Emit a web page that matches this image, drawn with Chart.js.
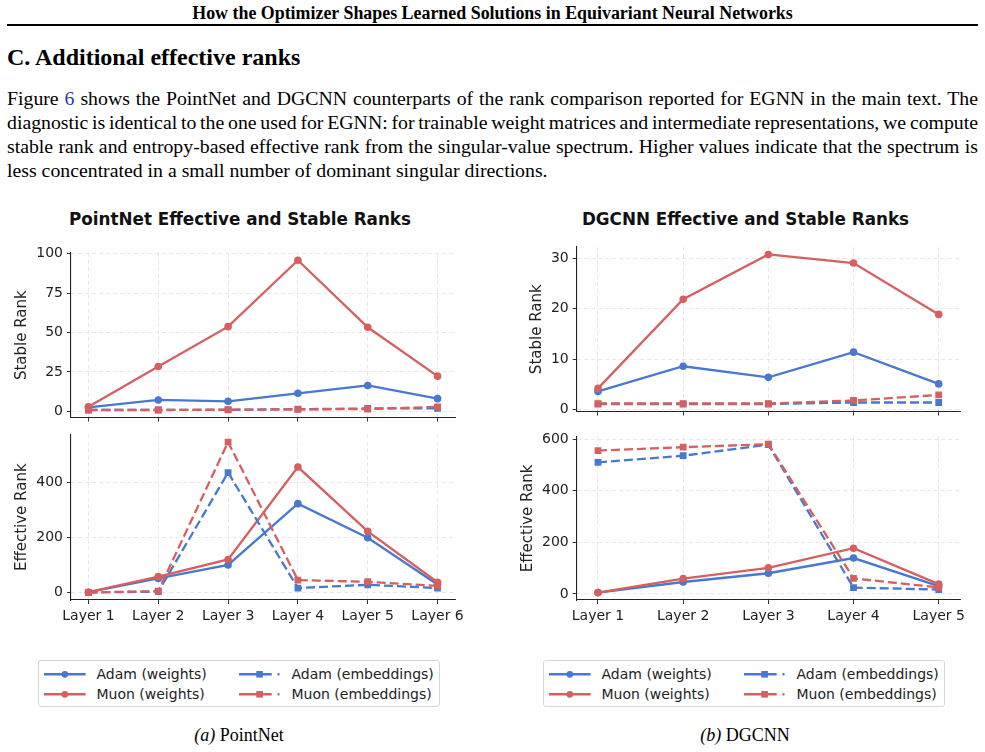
<!DOCTYPE html>
<html>
<head>
<meta charset="utf-8">
<script src="https://cdn.jsdelivr.net/npm/chart.js@4.4.1/dist/chart.umd.min.js"></script>
<style>
  html, body { margin: 0; padding: 0; background: #fff; }
  body { width: 985px; height: 752px; position: relative; overflow: hidden; color: #000; }
  .abs { position: absolute; }
  .serif { font-family: "Liberation Serif", "Times New Roman", serif; }
  #runhead { left: 0; width: 985px; top: 4px; text-align: center; font-weight: bold; font-size: 17.9px; line-height: 18px; }
  #rule { left: 7px; width: 971px; top: 24px; height: 1.6px; background: #000; }
  #sec { left: 7px; top: 45px; font-size: 24px; font-weight: bold; line-height: 24px; white-space: nowrap; }
  .pline { left: 7px; font-size: 19.8px; line-height: 24px; white-space: nowrap; }
  .pline a { color: #2a3aa0; text-decoration: none; }
  .ctitle { width: 480px; top: 209px; height: 20px; line-height: 20px; text-align: center;
            font-family: "DejaVu Sans", sans-serif; font-weight: bold; font-size: 16.8px; color: #111; }
  .legend { width: 400px; height: 45px; top: 660px; border: 1px solid #d6d6d6; border-radius: 3px; background: #fff; }
  .item { position: absolute; height: 20px; font-family: "DejaVu Sans", sans-serif; font-size: 14px; color: #222; }
  .item svg { position: absolute; left: 0; top: 4px; }
  .item span { position: absolute; left: 53px; top: 1px; line-height: 18px; white-space: nowrap; }
  .cap { width: 480px; top: 724px; text-align: center; font-size: 18px; line-height: 22px; }
  canvas { position: absolute; }
</style>
</head>
<body>
<div id="runhead" class="abs serif">How the Optimizer Shapes Learned Solutions in Equivariant Neural Networks</div>
<div id="rule" class="abs"></div>
<div id="sec" class="abs serif">C. Additional effective ranks</div>
<div class="abs serif pline fit" style="top:86px">Figure <a>6</a> shows the PointNet and DGCNN counterparts of the rank comparison reported for EGNN in the main text. The</div>
<div class="abs serif pline fit" style="top:110px">diagnostic is identical to the one used for EGNN: for trainable weight matrices and intermediate representations, we compute</div>
<div class="abs serif pline fit" style="top:134px">stable rank and entropy-based effective rank from the singular-value spectrum. Higher values indicate that the spectrum is</div>
<div class="abs serif pline" style="top:158px">less concentrated in a small number of dominant singular directions.</div>

<div class="abs ctitle" style="left:0px">PointNet Effective and Stable Ranks</div>
<div class="abs ctitle" style="left:505.5px">DGCNN Effective and Stable Ranks</div>

<canvas id="pnTop"></canvas>
<canvas id="pnBot"></canvas>
<canvas id="dgTop"></canvas>
<canvas id="dgBot"></canvas>

<div class="abs legend" id="legA" style="left:38px"></div>
<div class="abs legend" id="legB" style="left:543px"></div>

<div class="abs serif cap" style="left:-1px"><i>(a)</i> PointNet</div>
<div class="abs serif cap" style="left:505px"><i>(b)</i> DGCNN</div>

<script>
// ---- data ----
const pnLayers = ["Layer 1", "Layer 2", "Layer 3", "Layer 4", "Layer 5", "Layer 6"];
const pnStableAdamW = [2.5, 7.2, 6.3, 11.4, 16.4, 8.0];
const pnStableMuonW = [2.8, 28.4, 53.7, 95.8, 53.3, 22.3];
const pnStableAdamE = [0.8, 0.8, 0.9, 1.3, 1.8, 1.8];
const pnStableMuonE = [0.9, 0.9, 1.0, 1.2, 1.4, 2.8];
const pnEffAdamW = [2, 52, 101, 324, 200, 30];
const pnEffMuonW = [2, 59, 121, 457, 223, 38];
const pnEffAdamE = [1, 4, 437, 17, 29, 17];
const pnEffMuonE = [1, 6, 548, 46, 40, 25];

const dgLayers = ["Layer 1", "Layer 2", "Layer 3", "Layer 4", "Layer 5"];
const dgStableAdamW = [3.6, 8.6, 6.4, 11.4, 5.1];
const dgStableMuonW = [4.2, 21.9, 30.8, 29.1, 18.9];
const dgStableAdamE = [1.1, 1.1, 1.1, 1.4, 1.4];
const dgStableMuonE = [1.2, 1.2, 1.2, 1.8, 2.9];
const dgEffAdamW = [5, 46, 80, 139, 30];
const dgEffMuonW = [5, 59, 101, 177, 38];
const dgEffAdamE = [510, 536, 579, 24, 17];
const dgEffMuonE = [556, 569, 581, 60, 25];

const pnStableTicks = [0, 25, 50, 75, 100];
const pnEffTicks = [0, 200, 400];
const dgStableTicks = [0, 10, 20, 30];
const dgEffTicks = [0, 200, 400, 600];

const seriesNames = ["Adam (weights)", "Muon (weights)", "Adam (embeddings)", "Muon (embeddings)"];

const BLUE = "#4878d0";
const RED = "#d65f5f";
const SANS = "'DejaVu Sans', 'Noto Sans', sans-serif";

Chart.defaults.font.family = SANS;

// justify the paragraph lines to the text block width
document.querySelectorAll(".fit").forEach(el => {
  const natural = el.getBoundingClientRect().width;
  const spaces = (el.textContent.match(/ /g) || []).length;
  el.style.wordSpacing = ((971 - natural) / spaces) + "px";
});

function series(aw, mw, ae, me) {
  return [
    { label: seriesNames[0], data: aw, color: BLUE, dashed: false },
    { label: seriesNames[1], data: mw, color: RED, dashed: false },
    { label: seriesNames[2], data: ae, color: BLUE, dashed: true },
    { label: seriesNames[3], data: me, color: RED, dashed: true },
  ];
}

function rankChart(id, box, area, labels, sets, yTicks, yTitle, titlePad, showX) {
  const cv = document.getElementById(id);
  cv.width = box.w;
  cv.height = box.h;
  cv.style.left = box.x + "px";
  cv.style.top = box.y + "px";

  const all = sets.flatMap(s => s.data);
  const lo = Math.min(...all), hi = Math.max(...all);
  const pad = 0.05 * (hi - lo);
  const n = labels.length;

  return new Chart(cv, {
    type: "line",
    data: {
      datasets: sets.map((s, k) => ({
        label: s.label,
        data: s.data.map((v, i) => ({ x: i, y: v })),
        borderColor: s.color,
        backgroundColor: s.color,
        borderWidth: 2.3,
        borderDash: s.dashed ? [9, 4] : [],
        pointStyle: s.dashed ? "rect" : "circle",
        pointRadius: s.dashed ? 4.8 : 3.8,
        pointBorderWidth: 0,
        tension: 0,
        fill: false,
        order: sets.length - k,
      })),
    },
    options: {
      responsive: false,
      animation: false,
      devicePixelRatio: 1,
      layout: {
        padding: { left: 0, top: area.t - box.y, right: box.x + box.w - area.r, bottom: 0 },
      },
      plugins: { legend: { display: false }, tooltip: { enabled: false } },
      scales: {
        x: {
          type: "linear",
          min: -0.25,
          max: n - 1 + 0.25,
          afterBuildTicks: s => { s.ticks = labels.map((_, i) => ({ value: i })); },
          afterFit: s => { s.height = box.y + box.h - area.b; },
          ticks: {
            autoSkip: false, maxRotation: 0, padding: 4,
            font: { family: SANS, size: 14 }, color: "#222",
            callback: v => (showX ? labels[v] : ""),
          },
          grid: { color: "#e2e2e2", lineWidth: 0.8, tickLength: 4, tickColor: "#333", tickWidth: 1 },
          border: { display: true, color: "#222", width: 1.1, dash: [4, 3] },
        },
        y: {
          min: lo - pad,
          max: hi + pad,
          afterBuildTicks: s => { s.ticks = yTicks.map(v => ({ value: v })); },
          afterFit: s => { s.width = area.l - box.x; },
          ticks: { padding: 4, font: { family: SANS, size: 14 }, color: "#222" },
          grid: { color: "#e2e2e2", lineWidth: 0.8, tickLength: 4, tickColor: "#333", tickWidth: 1 },
          border: { display: true, color: "#222", width: 1.1, dash: [4, 3] },
          title: {
            display: true, text: yTitle, color: "#222",
            font: { family: SANS, size: 15 },
            padding: { top: titlePad, bottom: 0 },
          },
        },
      },
    },
  });
}

// boxes are canvas rectangles, areas are the plot rectangles (page pixels)
rankChart("pnTop", { x: 0, y: 236, w: 472, h: 198 }, { l: 71, t: 252.8, r: 455, b: 417.5 },
  pnLayers, series(pnStableAdamW, pnStableMuonW, pnStableAdamE, pnStableMuonE),
  pnStableTicks, "Stable Rank", 13.3, false);
rankChart("pnBot", { x: 0, y: 418, w: 472, h: 212 }, { l: 71, t: 434.5, r: 455, b: 600 },
  pnLayers, series(pnEffAdamW, pnEffMuonW, pnEffAdamE, pnEffMuonE),
  pnEffTicks, "Effective Rank", 13.3, true);
rankChart("dgTop", { x: 500, y: 230, w: 478, h: 198 }, { l: 576.7, t: 247, r: 960, b: 411.5 },
  dgLayers, series(dgStableAdamW, dgStableMuonW, dgStableAdamE, dgStableMuonE),
  dgStableTicks, "Stable Rank", 27.7, false);
rankChart("dgBot", { x: 500, y: 420, w: 478, h: 210 }, { l: 576.7, t: 436.7, r: 960, b: 600 },
  dgLayers, series(dgEffAdamW, dgEffMuonW, dgEffAdamE, dgEffMuonE),
  dgEffTicks, "Effective Rank", 18.7, true);

// legend (two columns, column-major like the original)
function handle(color, dashed) {
  const dash = dashed ? ' stroke-dasharray="32.7 5.8 2 10"' : "";
  const mark = dashed
    ? `<rect x="17.3" y="3" width="6.6" height="6.6" fill="${color}"/>`
    : `<circle cx="20.8" cy="6.3" r="3.4" fill="${color}"/>`;
  return `<svg width="42" height="13"><line x1="0" y1="6.3" x2="41.6" y2="6.3" stroke="${color}" stroke-width="2.4"${dash}/>${mark}</svg>`;
}
function buildLegend(id) {
  const el = document.getElementById(id);
  const pos = [[4.5, 2.5], [4.5, 23.1], [199.5, 2.5], [199.5, 23.1]];
  const cols = [BLUE, RED, BLUE, RED];
  seriesNames.forEach((name, k) => {
    const d = document.createElement("div");
    d.className = "item";
    d.style.left = pos[k][0] + "px";
    d.style.top = pos[k][1] + "px";
    d.innerHTML = handle(cols[k], k >= 2) + `<span>${name}</span>`;
    el.appendChild(d);
  });
}
buildLegend("legA");
buildLegend("legB");
</script>
</body>
</html>
